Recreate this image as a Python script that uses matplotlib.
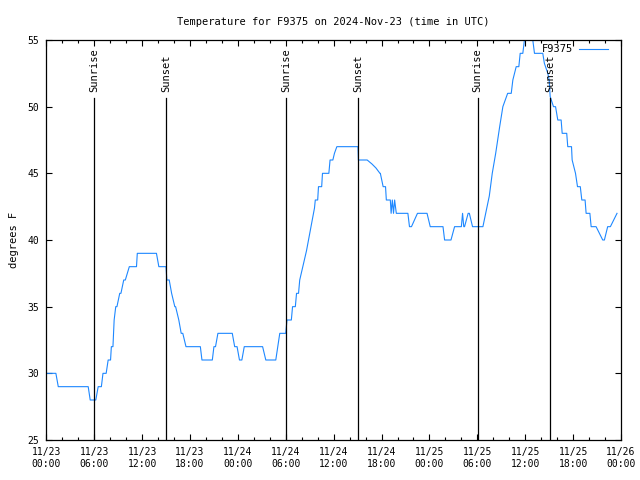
import numpy as np
import pandas as pd
import matplotlib
matplotlib.use('Agg')
import matplotlib.pyplot as plt
import matplotlib.dates as mdates
from matplotlib.ticker import MultipleLocator


###===== DATA =====####

# hours since 2024-11-23 00:00 UTC, temperature in F
hours = [0, 1.2, 1.5, 5.25, 5.5, 6.2, 6.5, 6.9, 7.1, 7.5, 7.75, 8.05, 8.15, 8.35, 8.5, 8.7,
         8.85, 9.2, 9.35, 9.7, 9.9, 10.4, 11.3, 11.4, 13.8, 14.1, 15.0, 15.1, 15.4, 15.7,
         16.1, 16.2, 16.6, 16.9, 17.1, 17.5, 19.3, 19.5, 20.8, 21.0, 21.2, 21.5, 23.3, 23.6,
         23.9, 24.2, 24.5, 24.8, 27.1, 27.5, 28.75, 29.0, 29.25, 30.0, 30.15, 30.7, 30.85,
         31.2, 31.35, 31.6, 31.75, 32.6, 33.6, 33.7, 34.0, 34.1, 34.5, 34.6, 35.4, 35.55,
         35.9, 36.1, 36.4, 39.05, 39.1, 40.2, 40.8, 41.3, 41.8, 41.85, 42.2, 42.5, 42.6,
         43.1, 43.2, 43.35, 43.5, 43.64, 43.85, 44.18, 45.3, 45.5, 45.75, 46.5, 47.7, 48.1,
         49.7, 49.9, 50.7, 51.15, 52.0, 52.15, 52.3, 52.4, 52.85, 53.0, 53.4, 54.7, 55.05,
         55.4, 55.5, 55.87, 56.3, 56.8, 57.2, 57.8, 58.25, 58.45, 58.87, 59.2, 59.37, 59.7,
         59.9, 60.1, 60.6, 60.8, 60.95, 61.16, 62.2, 62.4, 62.54, 62.83, 63.0, 63.13, 63.54,
         63.8, 64.08, 64.5, 64.63, 65.2, 65.33, 65.8, 65.88, 66.3, 66.55, 66.9, 67.09, 67.5,
         67.63, 68.1, 68.26, 68.88, 69.71, 69.92, 70.33, 70.67, 71.5]
temps = [30, 30, 29, 29, 28, 28, 29, 29, 30, 30, 31, 31, 32, 32, 34, 35,
         35, 36, 36, 37, 37, 38, 38, 39, 39, 38, 38, 37, 37, 36,
         35, 35, 34, 33, 33, 32, 32, 31, 31, 32, 32, 33, 33, 32,
         32, 31, 31, 32, 32, 31, 31, 32, 33, 33, 34, 34, 35,
         35, 36, 36, 37, 39.2, 42.4, 43, 43, 44, 44, 45, 45, 46,
         46, 46.5, 47, 47, 46, 46, 45.7, 45.4, 45, 45, 44, 44, 43,
         43, 42, 43, 42, 43, 42, 42, 42, 41, 41, 42, 42, 41,
         41, 40, 40, 41, 41, 42, 41, 41, 42, 42, 41, 41, 42,
         43, 43.3, 45, 46.5, 48.5, 50, 51, 51, 52, 53, 53, 54, 54,
         55, 56, 56, 55, 55, 54, 54, 53.25, 53, 52.5, 52, 50.75, 50,
         50, 49, 49, 48, 48, 47, 47, 46, 45, 44, 44, 43, 43,
         42, 42, 41, 41, 40, 40, 41, 41, 42]

# sunrise / sunset markers (hours since start)
sunEvents = [6.0, 15.0, 30.0, 39.05, 54.05, 63.1]
sunLabels = ['Sunrise', 'Sunset', 'Sunrise', 'Sunset', 'Sunrise', 'Sunset']

start = pd.Timestamp('2024-11-23 00:00')
times = start + pd.to_timedelta(hours, unit='h')
eventTimes = start + pd.to_timedelta(sunEvents, unit='h')


###===== PLOT =====####

plt.rcParams['font.family'] = ['DejaVu Sans Mono']
plt.rcParams['font.size'] = 7

fig = plt.figure(figsize=(6.4, 4.8), dpi=100)
ax = fig.add_axes([46.3/640, 40/480, (621-46.3)/640, 400/480])

ax.plot(times, temps, color='#1e88ff', linewidth=0.8, label='F9375')

# sunrise / sunset lines with rotated labels
for t, lab in zip(eventTimes, sunLabels):
    ax.axvline(t, ymin=0, ymax=0.854, color='black', linewidth=0.9)
    ax.text(t, 0.871, lab, transform=ax.get_xaxis_transform(), rotation=90,
            ha='center', va='bottom', fontsize=7.5)

ax.set_xlim(start, start + pd.Timedelta(hours=72))
ax.set_ylim(25, 55)
ax.yaxis.set_major_locator(MultipleLocator(5))

ax.xaxis.set_major_locator(mdates.HourLocator(byhour=range(0, 24, 6)))
ax.xaxis.set_minor_locator(mdates.HourLocator(byhour=range(0, 24, 2)))
ax.xaxis.set_major_formatter(mdates.DateFormatter('%m/%d\n%H:%M'))

ax.tick_params(which='both', direction='in', top=True, right=True, width=0.8)
ax.tick_params(which='major', length=4, pad=5)
ax.tick_params(which='minor', length=2.5)
for s in ax.spines.values():
    s.set_linewidth(0.9)

ax.set_ylabel('degrees F', fontsize=7.5, labelpad=6)
ax.set_title('Temperature for F9375 on 2024-Nov-23 (time in UTC)', fontsize=7.5, pad=11)

ax.legend(loc='upper right', bbox_to_anchor=(0.985, 1.0), frameon=False, markerfirst=False,
          handlelength=2.8, fontsize=7.5, borderaxespad=0, handletextpad=0.6)

fig.savefig('out.png', dpi=100)
